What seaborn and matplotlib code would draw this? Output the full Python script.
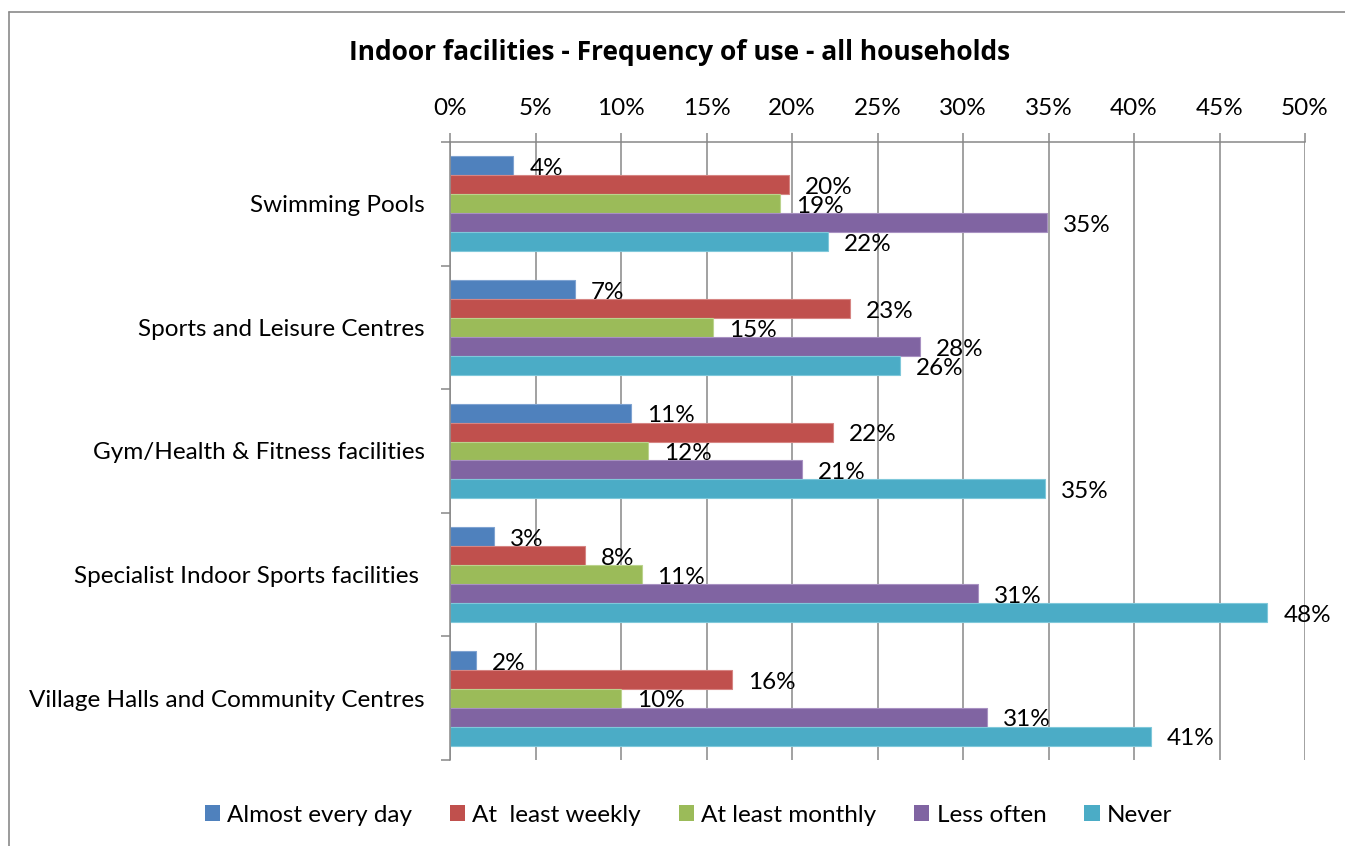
import matplotlib
matplotlib.use("Agg")
import matplotlib.pyplot as plt
import matplotlib.patches as mpatches
from matplotlib.lines import Line2D
from matplotlib.ticker import FixedLocator, PercentFormatter
import pandas as pd
import seaborn as sns

# Facility categories (top to bottom) and frequency-of-use series (% of households)
categories = [
    "Swimming Pools",
    "Sports and Leisure Centres",
    "Gym/Health & Fitness facilities",
    "Specialist Indoor Sports facilities ",
    "Village Halls and Community Centres",
]
series = ["Almost every day", "At  least weekly", "At least monthly", "Less often", "Never"]
almost_every_day = [3.7, 7.3, 10.6, 2.6, 1.5]
at_least_weekly = [19.8, 23.4, 22.4, 7.9, 16.5]
at_least_monthly = [19.3, 15.4, 11.6, 11.2, 10.0]
less_often = [34.9, 27.5, 20.6, 30.9, 31.4]
never = [22.1, 26.3, 34.8, 47.8, 41.0]
x_ticks = [0, 5, 10, 15, 20, 25, 30, 35, 40, 45, 50]

colors = ["#4F81BD", "#C0504D", "#9BBB59", "#8064A2", "#4BACC6"]
edge_colors = ["#7FA3D1", "#D68583", "#BBD38D", "#A891C2", "#7FC8DA"]

values = [almost_every_day, at_least_weekly, at_least_monthly, less_often, never]
df = pd.DataFrame(
    [(c, s, v[i]) for s, v in zip(series, values) for i, c in enumerate(categories)],
    columns=["facility", "frequency", "pct"],
)

sns.set_theme(style="white")
plt.rcParams["font.family"] = ["Lato", "DejaVu Sans"]
plt.rcParams["text.color"] = "black"

FS = 17.5
W, H = 1345, 846
fig = plt.figure(figsize=(W / 100, H / 100), dpi=100)
ax = fig.add_axes([450 / W, 1 - 760 / H, (1305 - 450) / W, (760 - 142) / H])

sns.barplot(
    data=df, y="facility", x="pct", hue="frequency", hue_order=series,
    order=categories, palette=colors, orient="h", width=0.766,
    saturation=1, ax=ax, legend=False, linewidth=0,
)

grid_col = "#878787"
ax.set_xlim(0, 50)
ax.set_ylim(len(categories) - 0.5, -0.5)
ax.xaxis.set_major_locator(FixedLocator(x_ticks))
ax.xaxis.set_major_formatter(PercentFormatter(decimals=0))
ax.xaxis.tick_top()
ax.grid(axis="x", color=grid_col, linewidth=1.1)
ax.set_axisbelow(True)
for side in ["right", "bottom"]:
    ax.spines[side].set_visible(False)
for side in ["left", "top"]:
    ax.spines[side].set_color(grid_col)
    ax.spines[side].set_linewidth(1.1)
ax.tick_params(axis="x", which="major", top=True, length=6.5, width=1.1,
               color=grid_col, pad=10, labelsize=FS, labelcolor="black")
ax.tick_params(axis="y", which="major", left=False, length=0, pad=18,
               labelsize=FS, labelcolor="black")
ax.yaxis.set_minor_locator(FixedLocator([i - 0.5 for i in range(len(categories) + 1)]))
ax.tick_params(axis="y", which="minor", left=True, length=6.5, width=1.1, color=grid_col)
ax.set_xlabel("")
ax.set_ylabel("")

# Bar outlines and value labels
for cont, ec in zip(ax.containers, edge_colors):
    for bar in cont:
        bar.set_edgecolor(ec)
        bar.set_linewidth(0.8)
        w = bar.get_width()
        yc = bar.get_y() + bar.get_height() / 2
        ax.annotate(f"{w:.0f}%", (w, yc), xytext=(11.5, -2), textcoords="offset points",
                    ha="left", va="center", fontsize=FS, color="black",
                    annotation_clip=False)

fig.text(679.5 / W, 1 - 52.5 / H, "Indoor facilities - Frequency of use - all households",
         ha="center", va="center", fontsize=19, fontweight="bold", color="black",
         family=["Open Sans", "DejaVu Sans"])

handles = [mpatches.Patch(facecolor=c, edgecolor="none") for c in colors]
fig.legend(handles, series, loc="center", bbox_to_anchor=(688.5 / W, 1 - 815 / H),
           ncol=5, frameon=False, fontsize=FS, handlelength=0.62, handleheight=0.62,
           handletextpad=0.3, columnspacing=1.56, labelcolor="black")

# Chart area border: left and top edges
border = dict(color="#8A8A8A", linewidth=1.2, transform=fig.transFigure)
fig.lines.append(Line2D([8.5 / W, 8.5 / W], [0, 1 - 12.5 / H], **border))
fig.lines.append(Line2D([8.5 / W, 1], [1 - 12.5 / H, 1 - 12.5 / H], **border))

fig.savefig("out.png", dpi=100)
